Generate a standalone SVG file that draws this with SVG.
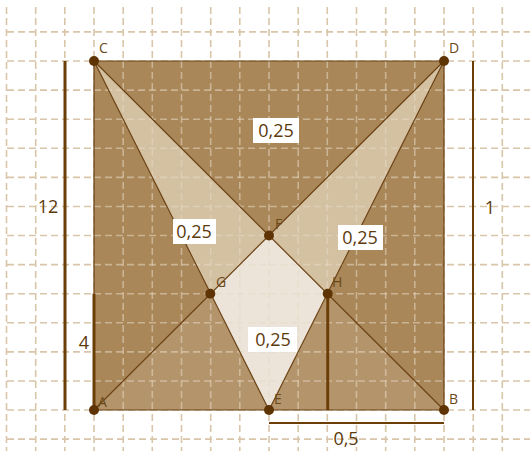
<svg xmlns="http://www.w3.org/2000/svg" width="530" height="451" viewBox="0 0 530 451">
<defs>
<style>
.grid{stroke:#d9c5a9;stroke-width:1.6;stroke-dasharray:7 4;fill:none}
.gridin{stroke:#e6d8c4;stroke-opacity:0.55;stroke-width:1.6;stroke-dasharray:7 4;fill:none}
.edge{stroke:#6b4214;stroke-width:1.2;fill:none}
.seg{stroke:#6b3e08;fill:none}
.pt{fill:#5e3405}
.lbl{font-family:"Open Sans","Noto Sans",sans-serif;font-size:14px;fill:#6b4a1a}
.num{font-family:"Open Sans","Noto Sans",sans-serif;font-size:18px;fill:#5c3a0c}
.box{fill:#ffffff}
</style>
</defs>
<rect x="0" y="0" width="530" height="451" fill="#ffffff"/>
<g id="grid">
<path class="grid" d="M6.5 7V451M35.7 7V451M64.8 7V451M94 7V451M123.2 7V451M152.3 7V451M181.5 7V451M210.7 7V451M239.8 7V451M269 7V451M298.2 7V451M327.3 7V451M356.5 7V451M385.7 7V451M414.8 7V451M444 7V451M473.2 7V451M502.3 7V451"/>
<path class="grid" d="M7 31.9H530M7 61H530M7 90.1H530M7 119.2H530M7 148.3H530M7 177.4H530M7 206.5H530M7 235.5H530M7 264.6H530M7 293.7H530M7 322.8H530M7 351.9H530M7 381H530M7 410H530M7 439.1H530"/>
</g>
<g id="square">
<polygon points="94,61 444,61 444,410 94,410" fill="#a98759"/>
<polygon points="94,410 444,410 269,235.5" fill="#b4956b"/>
<polygon points="94,61 210.3,293.7 269,235.5" fill="#d4c1a2"/>
<polygon points="444,61 269,235.5 327.7,293.7" fill="#d4c1a2"/>
<polygon points="269,235.5 210.3,293.7 269,410 327.7,293.7" fill="#ece4d9"/>
</g>
<g id="gridover">
<path class="gridin" d="M123.2 61V410M152.3 61V410M181.5 61V410M210.7 61V410M239.8 61V410M269 61V410M298.2 61V410M327.3 61V410M356.5 61V410M385.7 61V410M414.8 61V410"/>
<path class="gridin" d="M94 90.1H444M94 119.2H444M94 148.3H444M94 177.4H444M94 206.5H444M94 235.5H444M94 264.6H444M94 293.7H444M94 322.8H444M94 351.9H444M94 381H444"/>
</g>
<g id="connectors">
<polygon class="edge" points="94,61 444,61 444,410 94,410"/>
<line class="edge" x1="94" y1="61" x2="269" y2="410"/>
<line class="edge" x1="444" y1="61" x2="269" y2="410"/>
<line class="edge" x1="94" y1="61" x2="444" y2="410"/>
<line class="edge" x1="444" y1="61" x2="94" y2="410"/>
<line class="seg" stroke-width="3" x1="65" y1="61" x2="65" y2="410"/>
<line class="seg" stroke-width="3" x1="94" y1="293.7" x2="94" y2="410"/>
<line class="seg" stroke-width="3" x1="327.7" y1="293.7" x2="327.7" y2="410"/>
<line class="seg" stroke-width="2" x1="473" y1="61" x2="473" y2="410"/>
<line class="seg" stroke-width="2" x1="269" y1="423" x2="444" y2="423"/>
</g>
<g id="A"><circle class="pt" cx="94" cy="410" r="5"/><text class="lbl" x="98" y="407">A</text></g>
<g id="B"><circle class="pt" cx="444" cy="410" r="5"/><text class="lbl" x="449" y="404">B</text></g>
<g id="C"><circle class="pt" cx="94" cy="61" r="5"/><text class="lbl" x="99" y="53">C</text></g>
<g id="D"><circle class="pt" cx="444" cy="61" r="5"/><text class="lbl" x="449" y="53">D</text></g>
<g id="E"><circle class="pt" cx="269" cy="410" r="5"/><text class="lbl" x="274" y="404">E</text></g>
<g id="F"><circle class="pt" cx="269" cy="235.5" r="5"/><text class="lbl" x="275" y="229">F</text></g>
<g id="G"><circle class="pt" cx="210.3" cy="293.7" r="5"/><text class="lbl" x="216" y="287">G</text></g>
<g id="H"><circle class="pt" cx="327.7" cy="293.7" r="5"/><text class="lbl" x="332" y="287">H</text></g>
<g id="labels">
<rect class="box" x="253" y="118" width="46" height="25"/><text class="num" x="276" y="137" text-anchor="middle">0,25</text>
<rect class="box" x="173" y="219" width="43" height="25"/><text class="num" x="194" y="238" text-anchor="middle">0,25</text>
<rect class="box" x="338" y="225" width="45" height="25"/><text class="num" x="360" y="244" text-anchor="middle">0,25</text>
<rect class="box" x="248" y="327" width="49" height="25"/><text class="num" x="273" y="346" text-anchor="middle">0,25</text>
<text class="num" x="48" y="213" text-anchor="middle">12</text>
<text class="num" x="84" y="349" text-anchor="middle">4</text>
<text class="num" x="490" y="214" text-anchor="middle">1</text>
<text class="num" x="346" y="445" text-anchor="middle">0,5</text>
</g>
</svg>
